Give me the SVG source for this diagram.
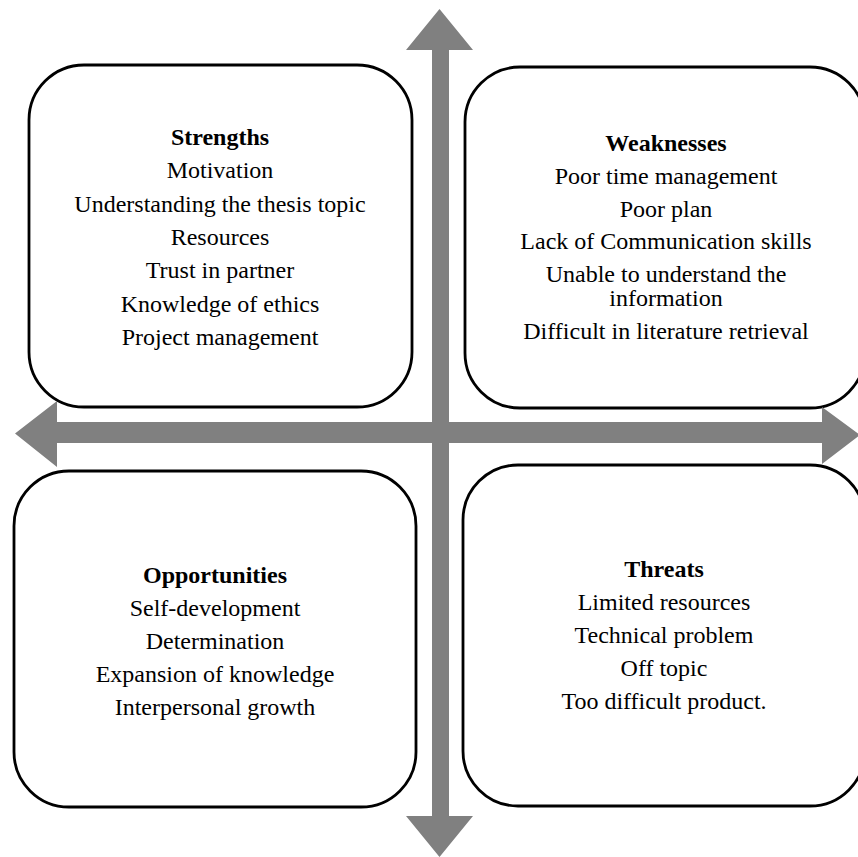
<svg xmlns="http://www.w3.org/2000/svg" width="858" height="857" viewBox="0 0 858 857">
<style>
.box{fill:#fff;stroke:#000;stroke-width:2.8}
.arr{fill:#808080;stroke:none}
text{font-family:"Liberation Serif","Times New Roman",serif;font-size:24px;fill:#000;text-anchor:middle}
.h{font-weight:bold}
</style>
<rect width="858" height="857" fill="#fff"/>
<g id="strengths">
<rect class="box" x="29" y="65" width="383" height="342" rx="55" ry="55"/>
<text class="h" x="220" y="145">Strengths</text>
<text x="220" y="178.3">Motivation</text>
<text x="220" y="211.7">Understanding the thesis topic</text>
<text x="220" y="245">Resources</text>
<text x="220" y="278.3">Trust in partner</text>
<text x="220" y="311.7">Knowledge of ethics</text>
<text x="220" y="345">Project management</text>
</g>
<g id="weaknesses">
<rect class="box" x="465" y="67" width="400" height="341" rx="55" ry="55"/>
<text class="h" x="666" y="151">Weaknesses</text>
<text x="666" y="184">Poor time management</text>
<text x="666" y="216.7">Poor plan</text>
<text x="666" y="249.3">Lack of Communication skills</text>
<text x="666" y="281.7">Unable to understand the</text>
<text x="666" y="306">information</text>
<text x="666" y="339.3">Difficult in literature retrieval</text>
</g>
<g id="opportunities">
<rect class="box" x="14" y="471" width="402" height="336" rx="55" ry="55"/>
<text class="h" x="215" y="583">Opportunities</text>
<text x="215" y="615.5">Self-development</text>
<text x="215" y="648.5">Determination</text>
<text x="215" y="681.5">Expansion of knowledge</text>
<text x="215" y="715">Interpersonal growth</text>
</g>
<g id="threats">
<rect class="box" x="463" y="465" width="402" height="341" rx="55" ry="55"/>
<text class="h" x="664" y="577">Threats</text>
<text x="664" y="610">Limited resources</text>
<text x="664" y="643">Technical problem</text>
<text x="664" y="676">Off topic</text>
<text x="664" y="709">Too difficult product.</text>
</g>
<g id="connectors">
<polygon class="arr" points="432,50 406,50 439.5,9 473,50 449,50 449,816 473,816 439.5,857 406,816 432,816"/>
<polygon class="arr" points="57,422 57,401 15,433.5 57,467 57,443 822,443 822,464 860,435 822,407 822,422"/>
</g>
</svg>
